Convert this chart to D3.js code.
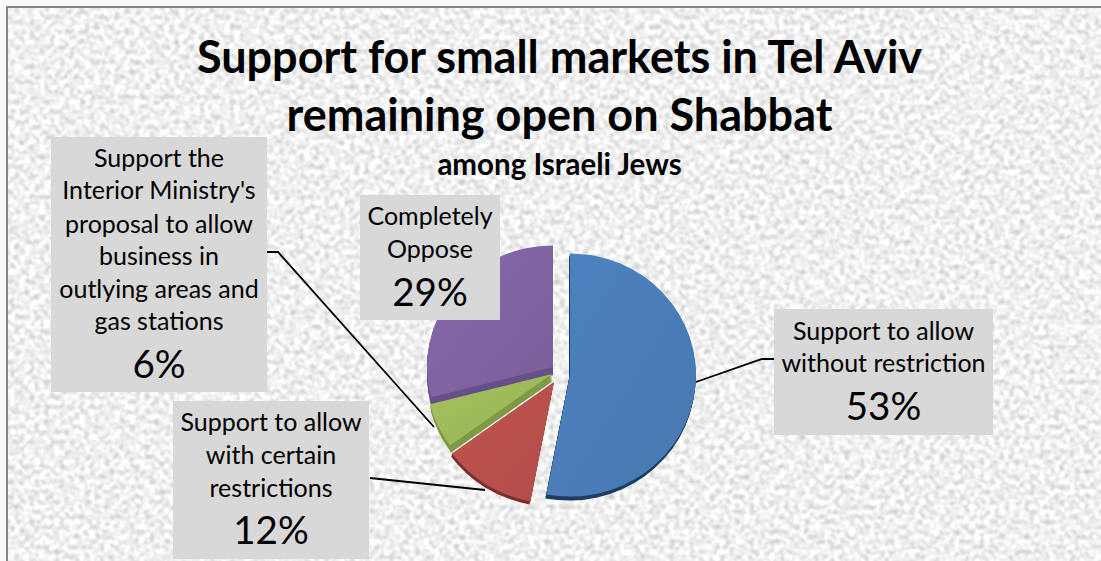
<!DOCTYPE html>
<html>
<head>
<meta charset="utf-8">
<script src="https://cdn.jsdelivr.net/npm/d3@7"></script>
<style>
  html, body { margin: 0; padding: 0; background: #f9fafd; overflow: hidden; }
  text { font-family: Lato, "Open Sans", sans-serif; fill: #000; }
</style>
</head>
<body>
<svg id="chart" width="1101" height="561"></svg>
<script>
// Chart values
const categories = ["Support to allow without restriction", "Support to allow with certain restrictions",
    "Support the Interior Ministry's proposal to allow business in outlying areas and gas stations", "Completely Oppose"];
const values = [53, 12, 6, 29];
const titleLines = ["Support for small markets in Tel Aviv", "remaining open on Shabbat"];
const subtitle = "among Israeli Jews";

const colors = ["#4a7db9", "#b9504c", "#9dbb5a", "#8064a2"];
const sideColors = ["#1f3d63", "#7c2f2c", "#7f9a45", "#66508a"];

const svg = d3.select("#chart");
const defs = svg.append("defs");

// Paper texture behind the chart
const paper = defs.append("filter").attr("id", "paper")
    .attr("x", 0).attr("y", 0).attr("width", "100%").attr("height", "100%")
    .attr("color-interpolation-filters", "sRGB");
paper.append("feTurbulence")
    .attr("type", "fractalNoise").attr("baseFrequency", 0.2).attr("numOctaves", 3).attr("seed", 7);
paper.append("feGaussianBlur").attr("stdDeviation", 0.9);
paper.append("feColorMatrix").attr("type", "matrix")
    .attr("values", "0.5 0 0 0 0.69  0.5 0 0 0 0.69  0.5 0 0 0 0.69  0 0 0 0 1");

svg.append("rect").attr("x", 8).attr("y", 8).attr("width", 1093).attr("height", 553)
    .attr("filter", "url(#paper)");
svg.append("path").attr("d", "M7 561V7H1101")
    .attr("fill", "none").attr("stroke", "#858585").attr("stroke-width", 2);

// Title
svg.selectAll(".title").data(titleLines).enter().append("text")
    .attr("class", "title")
    .attr("x", 559.5)
    .attr("y", (d, i) => 73 + i * 58)
    .attr("text-anchor", "middle")
    .style("font-size", "45px")
    .style("font-weight", 700)
    .text(d => d);

svg.append("text")
    .attr("x", 559.5).attr("y", 175)
    .attr("text-anchor", "middle")
    .style("font-size", "29.5px")
    .style("font-weight", 700)
    .text(subtitle);

// Slight shading across each slice
colors.forEach((c, i) => {
    const g = defs.append("linearGradient").attr("id", "slice" + i)
        .attr("x1", 0).attr("y1", 0).attr("x2", 1).attr("y2", 1);
    g.append("stop").attr("offset", 0).attr("stop-color", d3.color(c).brighter(0.12));
    g.append("stop").attr("offset", 1).attr("stop-color", d3.color(c).darker(0.12));
});

// Pie, each slice pulled out to where it sits in the picture
const sliceCenters = [[570, 375], [554, 382], [552, 374], [553, 367]];
const sideOffsets = [[-1, 4], [-1, 3], [1, 7], [0, 8]];
const radius = 126;
const tilt = 0.965;
const pie = d3.pie().sort(null).value(d => d);
const arc = d3.arc().innerRadius(0).outerRadius(radius);
const arcs = pie(values);

// Stacked darker copies below give the 3D edge
const pieOrder = [3, 2, 1, 0];
pieOrder.forEach(i => {
    const c = sliceCenters[i];
    const s = sideOffsets[i];
    for (let k = s[1]; k > 0; k--) {
        svg.append("path").datum(arcs[i])
            .attr("transform", `translate(${c[0] + s[0] * k / s[1]},${c[1] + k}) scale(1,${tilt})`)
            .attr("d", arc).attr("fill", sideColors[i]);
    }
    svg.append("path").datum(arcs[i])
        .attr("transform", `translate(${c[0]},${c[1]}) scale(1,${tilt})`)
        .attr("d", arc).attr("fill", `url(#slice${i})`);
});

// Leader lines
const leaders = [
    [[774, 359], [762, 359], [696, 382]],
    [[370, 478], [485, 490]],
    [[267, 252], [278, 252], [434, 427]]
];
const line = d3.line();
leaders.forEach(l => {
    svg.append("path").attr("d", line(l)).attr("fill", "none")
        .attr("stroke", "#000").attr("stroke-width", 1.8);
});

// Data labels
const labels = [
    { box: [774, 309, 219, 126], lines: ["Support to allow", "without restriction"], lineY: [340, 372], pctY: 420, value: 0 },
    { box: [173, 401, 196, 158], lines: ["Support to allow", "with certain", "restrictions"], lineY: [431, 464, 497], pctY: 544, value: 1 },
    { box: [51, 137, 216, 255], lines: ["Support the", "Interior Ministry's", "proposal to allow", "business in", "outlying areas and", "gas stations"],
      lineY: [167, 199, 233, 265, 298, 330], pctY: 378, value: 2 },
    { box: [360, 195, 140, 125], lines: ["Completely", "Oppose"], lineY: [225, 258], pctY: 306, value: 3 }
];

labels.forEach(l => {
    const cx = l.box[0] + l.box[2] / 2;
    svg.append("rect")
        .attr("x", l.box[0]).attr("y", l.box[1])
        .attr("width", l.box[2]).attr("height", l.box[3])
        .attr("fill", "#d8d8d8");
    l.lines.forEach((t, i) => {
        svg.append("text").attr("x", cx).attr("y", l.lineY[i])
            .attr("text-anchor", "middle").style("font-size", "25px").text(t);
    });
    svg.append("text").attr("x", cx).attr("y", l.pctY)
        .attr("text-anchor", "middle").style("font-size", "38.5px")
        .text(values[l.value] + "%");
});
</script>
</body>
</html>
